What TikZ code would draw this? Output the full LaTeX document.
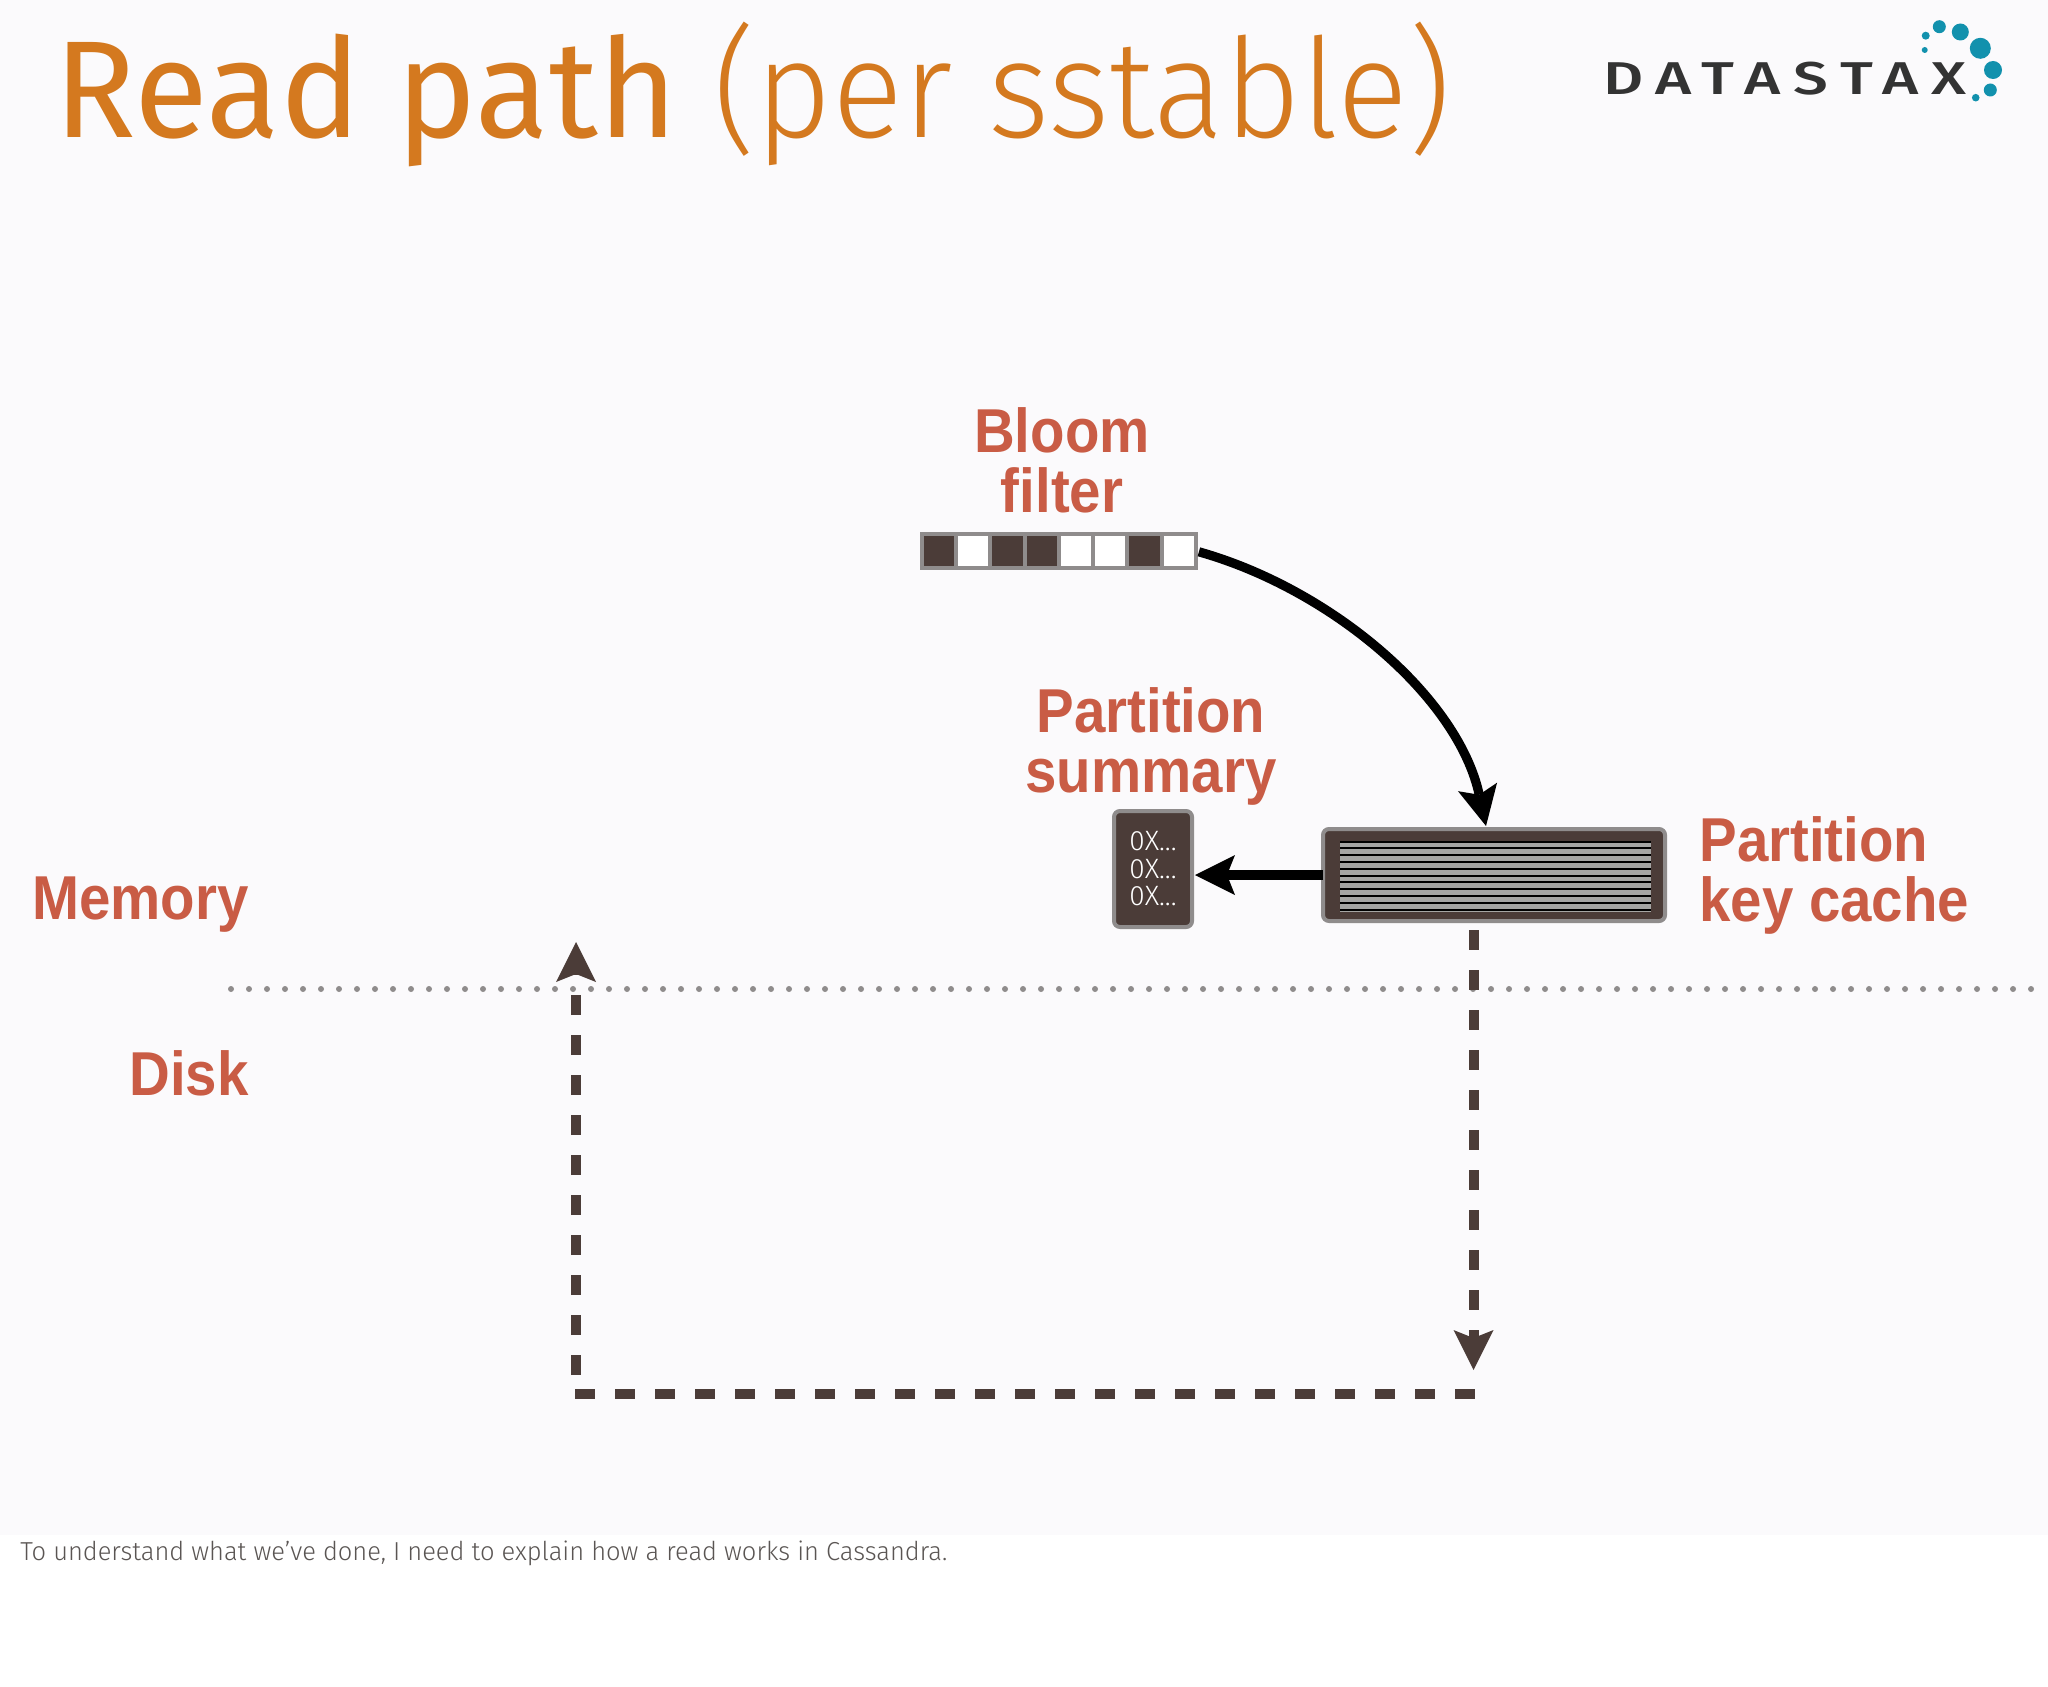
\documentclass[tikz,border=0pt]{standalone}
\usepackage{fontspec}
\usetikzlibrary{arrows.meta}
\newfontfamily\headfont[FakeStretch=0.98]{Fira Sans}
\newfontfamily\lightfont[FakeStretch=0.955]{Fira Sans Light}
\newfontfamily\smallfont{Fira Sans Light}
\newfontfamily\notefont[FakeStretch=0.98]{Fira Sans Light}
\newfontfamily\labelfont[FakeStretch=0.91]{Liberation Sans Bold}
\newfontfamily\logofont[FakeStretch=1.35,LetterSpace=28]{Fira Sans Medium}
\definecolor{slidebg}{HTML}{FBFAFC}
\definecolor{titleorange}{HTML}{D4791F}
\definecolor{labelred}{HTML}{C95C45}
\definecolor{boxbrown}{HTML}{4B3C38}
\definecolor{boxgray}{HTML}{8F8C8C}
\definecolor{stripegray}{HTML}{A5A5A3}
\definecolor{logoblue}{HTML}{1291AD}
\definecolor{logodark}{HTML}{333333}
\definecolor{notegray}{HTML}{5A5553}
\tikzset{
  label text/.style={text=labelred,inner sep=0pt,font=\labelfont\fontsize{31}{30}\selectfont},
  bit/.style={draw=boxgray,line width=2pt,minimum width=17.125pt,minimum height=17pt,inner sep=0pt,outer sep=0pt},
  store/.style={draw=boxgray,fill=boxbrown,line width=2pt,rounded corners=3pt,inner sep=0pt,outer sep=0pt},
  read arrow/.style={draw=black,line width=4.6pt,-{Stealth[length=20pt,width=20pt,inset=4pt,line width=0pt]}},
  disk path/.style={draw=boxbrown,line width=5pt,dash pattern=on 10pt off 10pt},
  disk arrow/.style={disk path,-{Stealth[length=20pt,width=20pt,inset=4pt,line width=0pt]}}
}
\begin{document}
\begin{tikzpicture}[x=0.5pt,y=-0.5pt]
    \useasboundingbox (0,0) rectangle (2048,1686);
    \fill [white] (0,0) rectangle (2048,1686);
    \fill [slidebg] (0,0) rectangle (2048,1535);
    % heading
    \node (title) [anchor=base west,inner sep=0pt,text=titleorange,font=\fontsize{69}{69}\selectfont]
        at (54,137) {\headfont Read path \lightfont (per sstable)};
    % logo
    \node (logo) [anchor=base west,inner sep=0pt,text=logodark,font=\logofont\fontsize{23}{23}\selectfont]
        at (1603,95) {DATASTAX};
    \foreach \cx/\cy/\rad in {1925.7/35.7/4,1924.7/50/3,1939.3/26.7/6.5,1960.3/32/8.5,
        1980.3/48.3/10.5,1993/70/9,1990.3/90/6.5,1975.7/97.7/3.8}
        \fill [logoblue] (\cx,\cy) circle [radius=\rad*0.5pt];
    % bloom filter
    \foreach \i/\shade in {1/boxbrown,2/white,3/boxbrown,4/boxbrown,5/white,6/white,7/boxbrown,8/white}
        \node (bit\i) [bit,fill=\shade] at ({939.1+34.25*(\i-1)},551) {};
    \node (bloomlabel) [label text,align=center] at (1062,460.5) {Bloom\\filter};
    % stores in memory
    \node (summary) [store,minimum width=39pt,minimum height=58pt,text=white,align=center,
        font=\smallfont\fontsize{14}{13.75}\selectfont] at (1153,869) {0X...\\0X...\\0X...};
    \node (summarylabel) [label text,align=center] at (1151,746) {Partition\\summary};
    \node (cache) [store,minimum width=171pt,minimum height=46pt] at (1494,875) {};
    \fill [stripegray] (1340,841) rectangle (1651,912);
    \foreach \i in {0,...,10}
        \draw [black,line width=1pt] (1340,{841.5+6.8*\i}) -- (1651,{841.5+6.8*\i});
    \node (cachelabel) [label text,align=left,anchor=west] at (1699,875) {Partition\\key cache};
    % memory and disk
    \draw [boxgray,line width=3pt,line cap=round,dash pattern=on 0pt off 9pt] (231,989) -- (2040,989);
    \node (memory) [label text,anchor=base east] at (249,919) {Memory};
    \node (disk) [label text,anchor=base east] at (249,1095) {Disk};
    % connectors
    \coordinate (cachein) at (1486,826);
    \coordinate (diskout) at (1473.5,930);
    \coordinate (diskin) at (1473.5,1370);
    \coordinate (turnright) at (1475,1394);
    \coordinate (turnleft) at (575,1394);
    \coordinate (turnup) at (576,1375);
    \coordinate (memoryin) at (576,942);
    \draw [read arrow,shorten <=1.5pt] (bit8.east) .. controls (1331,589) and (1458,697) .. (cachein);
    \draw [read arrow,shorten >=1.5pt] (cache.west) -- (cache.west -| summary.east);
    \draw [disk arrow] (diskout) -- (diskin);
    \draw [disk path] (turnleft) -- (turnright);
    \draw [disk arrow] (turnup) -- (memoryin);
    % speaker note
    \node (note) [anchor=base west,inner sep=0pt,text=notegray,font=\notefont\fontsize{13}{13}\selectfont]
        at (20,1560) {To understand what we’ve done, I need to explain how a read works in Cassandra.};
\end{tikzpicture}
\end{document}
